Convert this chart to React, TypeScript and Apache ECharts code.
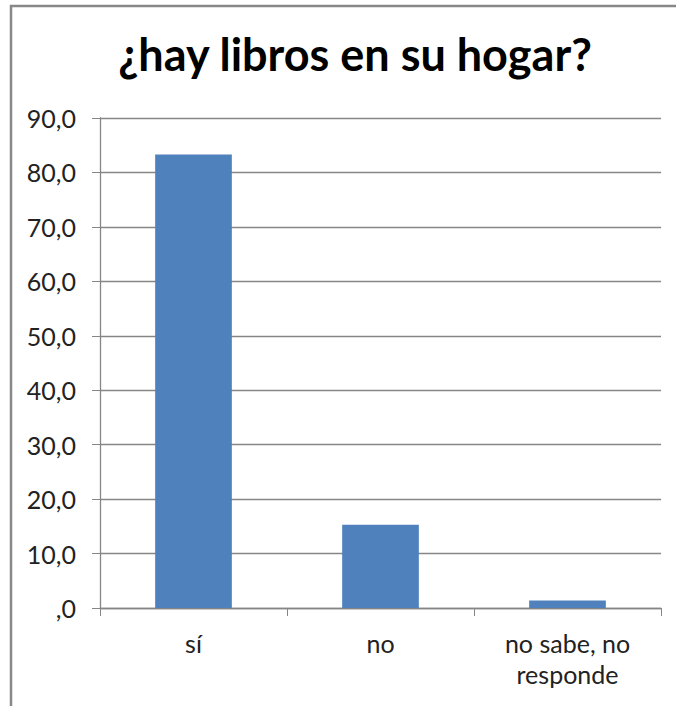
import React, { useEffect, useRef } from "react";
import * as echarts from "echarts";

const categories = ["sí", "no", "no sabe, no\nresponde"];
const values = [83.3, 15.3, 1.4];
const yTicks = { min: 0, max: 90, interval: 10 };
const titleText = "¿hay libros en su hogar?";

const FONT = "Lato";

export default function App() {
  const ref = useRef<HTMLDivElement>(null);
  useEffect(() => {
    if (!ref.current) return;
    const chart = echarts.init(ref.current, null, { renderer: "svg" });
    chart.setOption({
      animation: false,
      backgroundColor: "#ffffff",
      title: {
        text: titleText,
        left: 350,
        textAlign: "center",
        top: 26,
        textStyle: { fontFamily: FONT, fontWeight: "bold", fontSize: 45, color: "#000" },
      },
      graphic: [
        {
          type: "rect",
          shape: { x: 11, y: 6, width: 720, height: 760 },
          style: { fill: "none", stroke: "#888888", lineWidth: 2.5 },
          silent: true,
        },
      ],
      grid: { left: 100, right: 15, top: 118, bottom: 98 },
      xAxis: {
        type: "category",
        data: categories,
        boundaryGap: true,
        axisLine: { lineStyle: { color: "#868686", width: 1.3 } },
        axisTick: { show: true, length: 8, alignWithLabel: false, lineStyle: { color: "#868686" } },
        axisLabel: {
          fontFamily: FONT,
          fontSize: 25,
          color: "#222",
          margin: 19,
          lineHeight: 31,
          interval: 0,
        },
      },
      yAxis: {
        type: "value",
        min: yTicks.min,
        max: yTicks.max,
        interval: yTicks.interval,
        axisLine: { show: true, lineStyle: { color: "#868686", width: 1.3 } },
        axisTick: { show: true, length: 8, lineStyle: { color: "#868686" } },
        splitLine: { show: true, lineStyle: { color: "#868686", width: 1.3 } },
        axisLabel: {
          fontFamily: FONT,
          fontSize: 25,
          color: "#222",
          margin: 24,
          formatter: (v: number) => (v === 0 ? ",0" : v.toFixed(1).replace(".", ",")),
        },
      },
      series: [
        {
          type: "bar",
          data: values,
          barWidth: "41%",
          itemStyle: { color: "#4F81BD" },
        },
      ],
    });
    return () => chart.dispose();
  }, []);
  return (
    <div
      ref={ref}
      style={{ position: "fixed", left: 0, top: 0, width: 676, height: 706 }}
    />
  );
}
